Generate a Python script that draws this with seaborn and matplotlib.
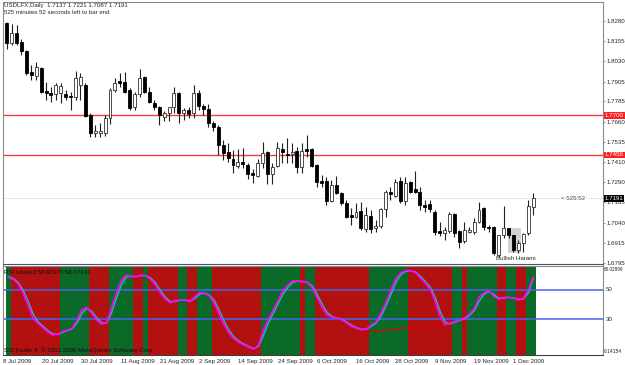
import numpy as np
import pandas as pd
import matplotlib
matplotlib.use("Agg")
import matplotlib.pyplot as plt
import matplotlib.transforms as mtransforms
from matplotlib.patches import Rectangle
from matplotlib import font_manager
import seaborn as sns

# USDLFX daily candles, 8 Jul 2009 .. 4 Dec 2009 (weekdays)
opens = [1.8264, 1.8141, 1.8203, 1.8151, 1.8094, 1.7967, 1.7941, 1.7988, 1.7850, 1.7834,
         1.7830, 1.7834, 1.7830, 1.7818, 1.7814, 1.7885, 1.7885, 1.7701, 1.7591, 1.7591,
         1.7591, 1.7683, 1.7855, 1.7910, 1.7906, 1.7855, 1.7752, 1.7830, 1.7933, 1.7844,
         1.7773, 1.7752, 1.7687, 1.7716, 1.7749, 1.7838, 1.7716, 1.7732, 1.7712, 1.7834,
         1.7757, 1.7736, 1.7654, 1.7628, 1.7517, 1.7476, 1.7430, 1.7388, 1.7415, 1.7395,
         1.7344, 1.7327, 1.7409, 1.7476, 1.7339, 1.7388, 1.7491, 1.7460, 1.7460, 1.7482,
         1.7384, 1.7491, 1.7491, 1.7395, 1.7296, 1.7296, 1.7176, 1.7272, 1.7225, 1.7160,
         1.7088, 1.7077, 1.7114, 1.7000, 1.7084, 1.7006, 1.7020, 1.7123, 1.7231, 1.7204,
         1.7298, 1.7176, 1.7292, 1.7246, 1.7231, 1.7149, 1.7155, 1.7108, 1.6991, 1.6975,
         1.6991, 1.7094, 1.6991, 1.6930, 1.6985, 1.6985, 1.7047, 1.7129, 1.7016, 1.7016,
         1.6842, 1.6965, 1.7006, 1.6965, 1.6873, 1.6914, 1.6975, 1.7137]
highs = [1.8274, 1.8260, 1.8254, 1.8166, 1.8100, 1.8008, 1.8028, 1.7998, 1.7906, 1.7875,
         1.7900, 1.7896, 1.7855, 1.7844, 1.7973, 1.7957, 1.7896, 1.7712, 1.7640, 1.7652,
         1.7701, 1.7867, 1.7926, 1.7957, 1.7967, 1.7865, 1.7844, 1.7984, 1.7943, 1.7875,
         1.7793, 1.7755, 1.7728, 1.7752, 1.7871, 1.7844, 1.7743, 1.7752, 1.7885, 1.7855,
         1.7769, 1.7769, 1.7665, 1.7640, 1.7548, 1.7530, 1.7487, 1.7493, 1.7499, 1.7407,
         1.7370, 1.7431, 1.7538, 1.7480, 1.7407, 1.7538, 1.7531, 1.7560, 1.7530, 1.7507,
         1.7530, 1.7579, 1.7499, 1.7398, 1.7333, 1.7323, 1.7303, 1.7327, 1.7231, 1.7180,
         1.7131, 1.7160, 1.7169, 1.7135, 1.7118, 1.7057, 1.7129, 1.7241, 1.7261, 1.7307,
         1.7323, 1.7323, 1.7296, 1.7358, 1.7261, 1.7180, 1.7180, 1.7118, 1.7047, 1.7016,
         1.7108, 1.7100, 1.6996, 1.7047, 1.7016, 1.7068, 1.7169, 1.7135, 1.7026, 1.7020,
         1.6968, 1.7143, 1.7010, 1.6968, 1.6934, 1.6975, 1.7180, 1.7221]
lows = [1.8105, 1.8131, 1.8131, 1.8070, 1.7947, 1.7916, 1.7916, 1.7836, 1.7793, 1.7783,
        1.7793, 1.7773, 1.7793, 1.7732, 1.7793, 1.7793, 1.7691, 1.7566, 1.7566, 1.7566,
        1.7573, 1.7646, 1.7844, 1.7871, 1.7834, 1.7732, 1.7732, 1.7814, 1.7834, 1.7773,
        1.7732, 1.7640, 1.7666, 1.7666, 1.7712, 1.7650, 1.7671, 1.7681, 1.7681, 1.7732,
        1.7701, 1.7628, 1.7603, 1.7456, 1.7425, 1.7415, 1.7346, 1.7376, 1.7376, 1.7309,
        1.7284, 1.7323, 1.7376, 1.7278, 1.7278, 1.7384, 1.7407, 1.7407, 1.7407, 1.7346,
        1.7346, 1.7446, 1.7384, 1.7261, 1.7261, 1.7149, 1.7169, 1.7217, 1.7149, 1.7068,
        1.7026, 1.7068, 1.6996, 1.6985, 1.6975, 1.6985, 1.7006, 1.7077, 1.7180, 1.7200,
        1.7160, 1.7149, 1.7225, 1.7221, 1.7118, 1.7108, 1.7108, 1.6965, 1.6959, 1.6934,
        1.6975, 1.6955, 1.6883, 1.6914, 1.6975, 1.6971, 1.7037, 1.6996, 1.6985, 1.6842,
        1.6832, 1.6945, 1.6947, 1.6863, 1.6853, 1.6863, 1.6965, 1.7087]
closes = [1.8145, 1.8203, 1.8141, 1.8096, 1.7957, 1.7947, 1.7998, 1.7844, 1.7834, 1.7824,
          1.7885, 1.7879, 1.7810, 1.7810, 1.7926, 1.7933, 1.7695, 1.7593, 1.7603, 1.7603,
          1.7683, 1.7855, 1.7896, 1.7896, 1.7844, 1.7743, 1.7830, 1.7926, 1.7844, 1.7783,
          1.7749, 1.7701, 1.7712, 1.7749, 1.7834, 1.7712, 1.7732, 1.7707, 1.7834, 1.7757,
          1.7736, 1.7654, 1.7628, 1.7517, 1.7466, 1.7436, 1.7395, 1.7415, 1.7401, 1.7339,
          1.7333, 1.7409, 1.7470, 1.7339, 1.7384, 1.7499, 1.7476, 1.7454, 1.7476, 1.7384,
          1.7482, 1.7482, 1.7388, 1.7292, 1.7286, 1.7176, 1.7272, 1.7225, 1.7163, 1.7077,
          1.7077, 1.7108, 1.7006, 1.7088, 1.7000, 1.7020, 1.7123, 1.7231, 1.7217, 1.7292,
          1.7176, 1.7282, 1.7231, 1.7231, 1.7149, 1.7135, 1.7123, 1.6985, 1.6975, 1.6996,
          1.7094, 1.6975, 1.6924, 1.6996, 1.6996, 1.7047, 1.7118, 1.7016, 1.7006, 1.6856,
          1.6965, 1.7006, 1.6965, 1.6873, 1.6918, 1.6971, 1.7143, 1.7191]

# RSI Limited (two lines)
rsi_main = [58.7, 57.3, 54.1, 47.7, 39.8, 30.7, 27.3, 24.3, 21.5, 19.3,
            19.8, 21.5, 22.7, 23.9, 29.5, 36.8, 37.9, 34.1, 29.5, 26.6,
            27.7, 37.5, 47.7, 56.3, 60.2, 59.1, 59.1, 60.2, 59.8, 57.3,
            53.4, 47.7, 43.7, 41.3, 42.7, 43.2, 43.2, 42.0, 45.4, 48.2,
            47.7, 45.9, 40.9, 33.4, 26.1, 20.4, 16.6, 14.3, 12.5, 10.9,
            9.5, 12.5, 22.7, 30.0, 36.3, 43.2, 49.5, 53.4, 56.3, 55.9,
            55.7, 55.0, 51.2, 44.3, 37.5, 32.9, 31.4, 30.7, 29.5, 27.3,
            25.0, 23.9, 22.7, 23.4, 26.1, 28.4, 34.5, 42.0, 50.0, 58.0,
            61.8, 63.2, 63.2, 61.8, 58.0, 54.6, 50.5, 42.0, 31.8, 26.1,
            27.3, 28.6, 29.5, 30.9, 33.6, 37.5, 45.4, 48.2, 49.5, 45.4,
            43.7, 45.0, 45.0, 44.3, 43.2, 44.3, 50.0, 58.92]
rsi_signal = [59.0, 57.8, 55.2, 49.9, 42.6, 33.9, 28.5, 25.4, 22.5, 20.1,
              19.6, 20.9, 22.3, 23.5, 27.5, 34.2, 37.5, 35.4, 31.1, 27.6,
              27.3, 34.1, 44.1, 53.3, 58.8, 59.5, 59.1, 59.8, 59.9, 58.2,
              54.8, 49.7, 45.1, 42.1, 42.2, 43.0, 43.2, 42.4, 44.2, 47.2,
              47.9, 46.5, 42.7, 36.0, 28.7, 22.4, 17.9, 15.1, 13.1, 11.5,
              10.0, 11.5, 19.1, 27.4, 34.1, 40.8, 47.3, 52.0, 55.3, 56.0,
              55.8, 55.2, 52.5, 46.7, 39.9, 34.5, 31.9, 30.9, 29.9, 28.1,
              25.8, 24.3, 23.1, 23.2, 25.2, 27.6, 32.4, 39.4, 47.2, 55.2,
              60.5, 62.7, 63.2, 62.3, 59.3, 55.8, 51.9, 45.0, 35.4, 28.1,
              26.9, 28.1, 29.2, 30.4, 32.7, 36.1, 42.6, 47.2, 49.0, 46.8,
              44.3, 44.5, 45.0, 44.5, 43.6, 43.9, 48.0, 58.07]

# background zones under the RSI (run lengths, alternating, starting green)
zone_runs = [1, 10, 6, 4, 5, 2, 1, 6, 2, 2, 3, 10, 8, 1, 2, 11, 8, 9, 2, 1, 6, 2, 2, 2, 2]

# trend line drawn on the RSI pane
trend_bars = [72, 89]
trend_vals = [21.0, 26.5]

price_ticks = [1.8280, 1.8155, 1.8030, 1.7905, 1.7785, 1.7660, 1.7535, 1.7410,
               1.7290, 1.7165, 1.7040, 1.6915, 1.6795]
level_lines = [1.7700, 1.7456]
last_price = 1.7191
date_labels = ["8 Jul 2009", "20 Jul 2009", "30 Jul 2009", "11 Aug 2009", "21 Aug 2009",
               "2 Sep 2009", "14 Sep 2009", "24 Sep 2009", "6 Oct 2009", "16 Oct 2009",
               "28 Oct 2009", "9 Nov 2009", "19 Nov 2009", "1 Dec 2009"]

df = pd.DataFrame({"open": opens, "high": highs, "low": lows, "close": closes,
                   "rsi": rsi_main, "sig": rsi_signal})
df["bar"] = np.arange(len(df))
up = df["close"] >= df["open"]

sns.set_style("white")
installed = {f.name for f in font_manager.fontManager.ttflist}
if "Liberation Sans Narrow" in installed:
    plt.rcParams["font.family"] = ["Liberation Sans Narrow", "DejaVu Sans"]
    FS = 5.2
else:
    plt.rcParams["font.family"] = ["Liberation Sans", "DejaVu Sans"]
    FS = 4.4

W, H = 625, 365
fig = plt.figure(figsize=(W / 100, H / 100), dpi=100)
fig.patch.set_facecolor("white")

def box(x0, y0, x1, y1):
    return [x0 / W, 1 - y1 / H, (x1 - x0) / W, (y1 - y0) / H]

ax = fig.add_axes(box(3, 2, 603, 264))
ax2 = fig.add_axes(box(3, 265.5, 603, 354.5))
xlim = (-0.75, 121.2)

# ---- price pane ----
ax.set_xlim(*xlim)
ax.set_ylim(1.6787, 1.8395)
for lv in level_lines:
    ax.axhline(lv, color="#f03c3c", lw=1.0, zorder=1)
ax.axhline(last_price, color="#d89a9a", lw=0.6, ls=(0, (1, 2)), zorder=1)

ax.add_patch(Rectangle((101.8, 1.6855), 2.8, 0.0153, facecolor="#d2d2d2",
                       edgecolor="none", zorder=1))

ax.vlines(df["bar"], df["low"], df["high"], color="#202020", lw=0.8, zorder=2)
body_lo = np.minimum(df["open"], df["close"])
body_h = np.maximum((df["close"] - df["open"]).abs(), 0.00012)
ax.bar(df["bar"][up], body_h[up], bottom=body_lo[up], width=0.6,
       color="white", edgecolor="#303030", linewidth=0.6, zorder=3)
ax.bar(df["bar"][~up], body_h[~up], bottom=body_lo[~up], width=0.6,
       color="black", edgecolor="black", linewidth=0.6, zorder=3)

ax.text(103.4, 1.6820, "Bullish Harami", fontsize=FS, ha="center", va="center")
ax.text(112.6, last_price, "< 525:52", fontsize=FS, color="#505050", va="center")

ax.yaxis.tick_right()
ax.set_yticks(price_ticks)
ax.set_yticklabels([f"{t:.4f}" for t in price_ticks], fontsize=FS)
ax.tick_params(axis="y", length=1.5, width=0.6, pad=0.8, color="#808080")
ax.set_xticks([])
for s in ax.spines.values():
    s.set_color("#8a8a8a")
    s.set_linestyle((0, (1, 1)))
    s.set_linewidth(0.8)
ax.spines["bottom"].set_color("#505070")

yx = mtransforms.blended_transform_factory(ax.transAxes, ax.transData)
for lv in level_lines:
    ax.text(1.003, lv, f"{lv:.4f}", transform=yx, fontsize=FS, color="white",
            va="center", ha="left", zorder=5,
            bbox=dict(facecolor="#ff2020", edgecolor="none", pad=0.6))
ax.text(1.003, last_price, f"{last_price:.4f}", transform=yx, fontsize=FS, color="white",
        va="center", ha="left", zorder=5,
        bbox=dict(facecolor="black", edgecolor="none", pad=0.6))

fig.text(4 / W, 1 - 6 / H, "USDLFX,Daily  1.7137 1.7221 1.7087 1.7191", fontsize=FS, va="center")
fig.text(4 / W, 1 - 13 / H, "525 minutes 52 seconds left to bar end", fontsize=FS, va="center")

# ---- RSI pane ----
ax2.set_xlim(*xlim)
ax2.set_ylim(5.97, 66.72)
zone_cols = np.repeat([["#0c6a29", "#b3110f"][k % 2] for k in range(len(zone_runs))], zone_runs)
ax2.bar(df["bar"], 1, width=1.0, bottom=0, color=zone_cols, linewidth=0,
        transform=ax2.get_xaxis_transform(), zorder=0)
ax2.axhline(50, color="#4466ee", lw=1.1, zorder=2)
ax2.axhline(30, color="#4466ee", lw=1.1, zorder=2)
ax2.plot(trend_bars, trend_vals, color="#e00000", lw=0.9, zorder=3)
sns.lineplot(data=df, x="bar", y="sig", ax=ax2, color="#2ab8b0", lw=1.0, zorder=4)
sns.lineplot(data=df, x="bar", y="rsi", ax=ax2, color="#ff00ff", lw=1.2, zorder=5)
ax2.set_xlabel("")
ax2.set_ylabel("")
ax2.set_yticks([])

tick_pos = np.arange(len(date_labels)) * 8 - 1.1
ax2.set_xticks(tick_pos)
ax2.set_xticklabels(date_labels, fontsize=FS, ha="left")
ax2.tick_params(axis="x", length=2, width=0.6, pad=1.0, color="#808080")
for s in ax2.spines.values():
    s.set_color("#8a8a8a")
    s.set_linewidth(0.8)
ax2.spines["left"].set_linestyle((0, (1, 1)))
ax2.spines["right"].set_linestyle((0, (1, 1)))
ax2.spines["bottom"].set_color("#404040")

yx2 = mtransforms.blended_transform_factory(ax2.transAxes, ax2.transData)
ax2.text(1.001, 66.03, "66.02899", transform=yx2, fontsize=FS * 0.76, va="top")
ax2.text(1.005, 50, "50", transform=yx2, fontsize=FS, va="center")
ax2.text(1.005, 30, "30", transform=yx2, fontsize=FS, va="center")
ax2.text(1.002, 6.14, "6.14154", transform=yx2, fontsize=FS * 0.82, va="bottom")

fig.text(4 / W, 1 - 272 / H, "RSI Limited 58.92370 58.07431", fontsize=FS, va="center", color="#101010")
fig.text(4 / W, 1 - 350 / H, "SIGTrader 4, \u00a9 2001-2009 MetaQuotes Software Corp.",
         fontsize=FS, va="center", color="#101010")

fig.savefig("out.png", dpi=100, facecolor="white")
